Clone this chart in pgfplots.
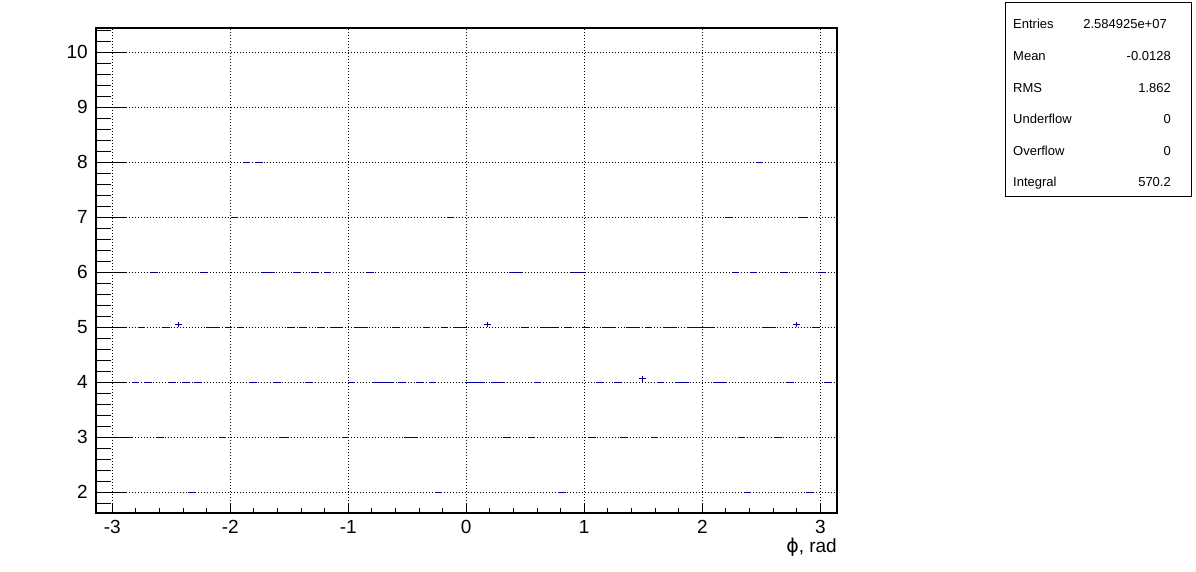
\documentclass[border=0pt]{standalone}
\usepackage{fontspec}
\setmainfont{Liberation Sans}
\newfontfamily\dejavu{DejaVu Sans}
\usepackage{pgfplots}
\usepackage{pgfplotstable}
\pgfplotsset{compat=1.18}
\definecolor{rootblue}{RGB}{0,0,153}

\pgfplotstableread{
x y ey
-2.8536 3 0
-2.8012 4 0
-2.7489 5 0
-2.6965 4 0
-2.6442 6 0
-2.5918 3 0
-2.5395 5 0
-2.4871 4 0
-2.4347 5.05 0.05
-2.3824 4 0
-2.3300 2 0
-2.2777 4 0
-2.2253 6 0
-2.1729 5 0
-2.1206 5 0
-2.0682 3 0
-2.0159 5 0
-1.9635 7 0
-1.9111 5 0
-1.8588 8 0
-1.8064 4 0
-1.7541 8 0
-1.7017 6 0
-1.6493 6 0
-1.5970 4 0
-1.5446 3 0
-1.4923 5 0
-1.4399 6 0
-1.3875 5 0
-1.3352 4 0
-1.2828 6 0
-1.2305 5 0
-1.1781 6 0
-1.1257 5 0
-1.0734 5 0
-1.0210 3 0
-0.9687 4 0
-0.9163 5 0
-0.8639 5 0
-0.8116 6 0
-0.7592 4 0
-0.7069 4 0
-0.6545 4 0
-0.6021 5 0
-0.5498 4 0
-0.4974 3 0
-0.4451 3 0
-0.3927 4 0
-0.3403 5 0
-0.2880 4 0
-0.2356 2 0
-0.1833 5 0
-0.1309 7 0
-0.0785 5 0
-0.0262 5 0
0.0262 4 0
0.0785 4 0
0.1309 4 0
0.1833 5.05 0.05
0.2356 4 0
0.2880 4 0
0.3403 3 0
0.3927 6 0
0.4451 6 0
0.4974 5 0
0.5498 3 0
0.6021 4 0
0.6545 5 0
0.7069 5 0
0.7592 5 0
0.8116 2 0
0.8639 5 0
0.9163 6 0
0.9687 6 0
1.0210 5 0
1.0734 3 0
1.1257 4 0
1.1781 5 0
1.2305 5 0
1.2828 4 0
1.3352 3 0
1.3875 5 0
1.4399 5 0
1.4923 4.06 0.05
1.5446 5 0
1.5970 3 0
1.6493 4 0
1.7017 5 0
1.7541 5 0
1.8064 4 0
1.8588 4 0
1.9111 5 0
1.9635 5 0
2.0159 5 0
2.0682 5 0
2.1206 4 0
2.1729 4 0
2.2253 7 0
2.2777 6 0
2.3300 3 0
2.3824 2 0
2.4347 6 0
2.4871 8 0
2.5395 5 0
2.5918 5 0
2.6442 3 0
2.6965 6 0
2.7489 4 0
2.8012 5.05 0.05
2.8536 7 0
2.9060 2 0
2.9583 5 0
3.0107 6 0
3.0630 4 0
}\phidata

\begin{document}
\begin{tikzpicture}
\useasboundingbox (0,0) rectangle (1196pt,572pt);
\pgfplotsset{
  common/.style={
    at={(95.5pt,59pt)}, anchor=south west,
    scale only axis, width=741.5pt, height=485pt,
    xmin=-3.14159, xmax=3.14159, ymin=1.624, ymax=10.44,
  }
}
\begin{axis}[common,
  axis line style={line width=2pt, black},
  xtick={-3,-2,-1,0,1,2,3}, xticklabels={-3,-2,-1,0,1,2,3},
  ytick={2,3,4,5,6,7,8,9,10}, yticklabels={2,3,4,5,6,7,8,9,10},
  minor x tick num=4,
  minor ytick={1.8,2.0,...,10.41},
  ytick pos=left, xtick pos=left,
  tick align=inside,
  major tick length=30pt, minor tick length=15pt,
  tick style={line width=1pt, black},
  xtick style={draw=none}, minor x tick style={draw=none},
  grid=major,
  major grid style={black, line width=1pt, dash pattern=on 1pt off 2pt},
  tick label style={font=\fontsize{19}{19}\selectfont, inner sep=0pt},
  xticklabel style={anchor=north, yshift=-7pt},
  yticklabel style={anchor=east, xshift=-7.5pt},
  xlabel={{\dejavu ϕ}, rad},
  xlabel style={at={(axis description cs:1,0)}, anchor=east, yshift=-34pt, inner sep=0pt, font=\fontsize{19}{19}\selectfont},
]
\addplot[draw=none, mark=none,
  error bars/.cd, x dir=both, x fixed=0.0300, y dir=both, y explicit,
  error mark=none, error bar style={draw=rootblue, line width=1pt, solid}]
  table[x=x, y=y, y error=ey] {\phidata};
\end{axis}
\begin{axis}[common,
  axis line style={draw=none},
  ytick=\empty,
  xtick={-3,-2,-1,0,1,2,3}, xticklabels={},
  minor x tick num=4,
  xtick pos=left,
  tick align=inside,
  major tick length=10pt, minor tick length=5pt,
  tick style={line width=1pt, black},
]
\end{axis}
\draw[line width=1pt, black] (1005pt,569pt) rectangle (1191pt,375pt);
\begin{scope}[every node/.style={font=\fontsize{13}{13}\selectfont, inner sep=0pt}]
\node[anchor=mid west] at (1013pt,546.5pt) {Entries};
\node[anchor=mid east] at (1167pt,546.5pt) {2.584925e+07};
\node[anchor=mid west] at (1013pt,514.5pt) {Mean};
\node[anchor=mid east] at (1171pt,514.5pt) {-0.0128};
\node[anchor=mid west] at (1013pt,482.5pt) {RMS};
\node[anchor=mid east] at (1171pt,482.5pt) {1.862};
\node[anchor=mid west] at (1013pt,450.8pt) {Underflow};
\node[anchor=mid east] at (1171pt,450.8pt) {0};
\node[anchor=mid west] at (1013pt,419.1pt) {Overflow};
\node[anchor=mid east] at (1171pt,419.1pt) {0};
\node[anchor=mid west] at (1013pt,388pt) {Integral};
\node[anchor=mid east] at (1171pt,388pt) {570.2};
\end{scope}
\end{tikzpicture}
\end{document}
